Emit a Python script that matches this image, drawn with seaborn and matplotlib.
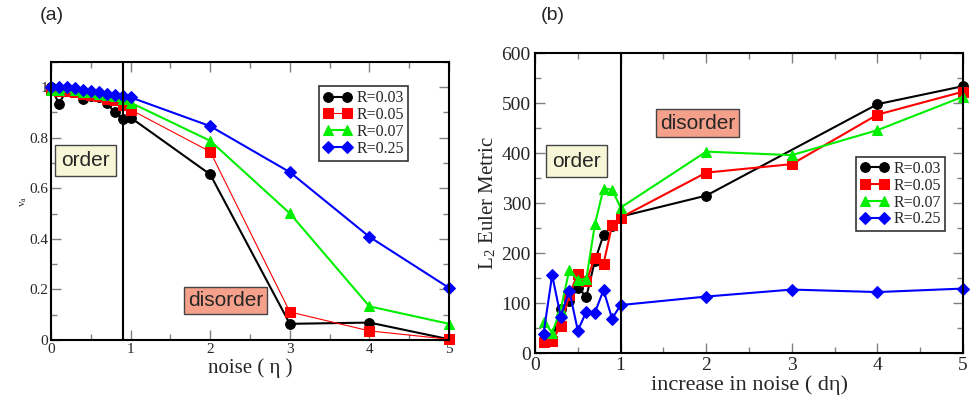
import numpy as np
import pandas as pd
import matplotlib
matplotlib.use("Agg")
import matplotlib.pyplot as plt
from matplotlib.ticker import MultipleLocator
import seaborn as sns

# ---- data: panel (a) order parameter vs noise ----
noise_a = [0.0, 0.1, 0.2, 0.3, 0.4, 0.5, 0.6, 0.7, 0.8, 0.9, 1.0, 2.0, 3.0, 4.0, 5.0]
va_r003 = [1.0, 0.935, 0.99, 0.984, 0.955, 0.964, 0.96, 0.939, 0.90, 0.875, 0.88, 0.655, 0.064, 0.069, 0.003]
va_r005 = [0.99, 0.985, 0.985, 0.98, 0.975, 0.97, 0.965, 0.955, 0.95, 0.928, 0.911, 0.745, 0.111, 0.036, 0.003]
va_r007 = [0.99, 0.99, 1.0, 0.99, 0.98, 0.98, 0.975, 0.97, 0.965, 0.955, 0.939, 0.788, 0.501, 0.133, 0.064]
va_r025 = [1.0, 1.0, 1.0, 0.995, 0.99, 0.985, 0.98, 0.975, 0.97, 0.965, 0.96, 0.846, 0.664, 0.408, 0.206]

# ---- data: panel (b) L2 Euler metric vs increase in noise ----
dnoise = [0.1, 0.2, 0.3, 0.4, 0.5, 0.6, 0.7, 0.8, 0.9, 1.0, 2.0, 3.0, 4.0, 5.0]
dnoise_r003 = [0.1, 0.2, 0.3, 0.4, 0.5, 0.6, 0.7, 0.8, 0.9, 1.0, 2.0, 4.0, 5.0]
l2_r003 = [22, 25, 89, 104, 131, 113, 185, 236, 255, 273, 315, 498, 534]
l2_r005 = [23, 24, 55, 116, 159, 144, 191, 178, 256, 271, 361, 378, 477, 523]
l2_r007 = [63, 41, 87, 166, 146, 149, 258, 329, 327, 291, 403, 396, 446, 513]
l2_r025 = [39, 156, 73, 125, 45, 83, 81, 126, 69, 96, 113, 127, 122, 129]

labels = ["R=0.03", "R=0.05", "R=0.07", "R=0.25"]
colors = ["black", "#ff0000", "#00ee00", "#0000ff"]
markers = ["o", "s", "^", "D"]
msizes = [7, 7, 7.5, 6]

sns.set_style("ticks")
plt.rcParams["font.family"] = ["Liberation Serif", "DejaVu Serif"]
plt.rcParams["mathtext.fontset"] = "stix"

fig = plt.figure(figsize=(9.71, 4.03), dpi=100)
ax1 = fig.add_axes([0.0525, 0.1563, 0.41, 0.69])
ax2 = fig.add_axes([0.551, 0.124, 0.4408, 0.744])

# panel (a)
series_a = [va_r003, va_r005, va_r007, va_r025]
widths_a = [1.5, 0.8, 1.5, 1.5]
for vals, lab, c, m, ms, lw in zip(series_a, labels, colors, markers, msizes, widths_a):
    df = pd.DataFrame({"noise": noise_a, "va": vals})
    sns.lineplot(data=df, x="noise", y="va", ax=ax1, color=c, marker=m, lw=lw,
                 markersize=ms, markeredgecolor=c, label=lab, clip_on=False)
ax1.axvline(0.9, color="black", lw=1.5)
ax1.set_xlim(0, 5)
ax1.set_ylim(0, 1.1)
ax1.set_yticks([0, 0.2, 0.4, 0.6, 0.8, 1.0])
ax1.set_yticklabels(["0", "0.2", "0.4", "0.6", "0.8", "1"])
ax1.xaxis.set_minor_locator(MultipleLocator(0.5))
ax1.yaxis.set_minor_locator(MultipleLocator(0.1))
ax1.set_xlabel("noise ( η )", fontsize=15, labelpad=2)
ax1.set_ylabel(r"v$_\mathregular{a}$", fontsize=8, labelpad=0)

# panel (b)
xs_b = [dnoise_r003, dnoise, dnoise, dnoise]
series_b = [l2_r003, l2_r005, l2_r007, l2_r025]
for xv, vals, lab, c, m, ms in zip(xs_b, series_b, labels, colors, markers, msizes):
    df = pd.DataFrame({"dnoise": xv, "l2": vals})
    sns.lineplot(data=df, x="dnoise", y="l2", ax=ax2, color=c, marker=m, lw=1.5,
                 markersize=ms, markeredgecolor=c, label=lab, clip_on=False)
ax2.axvline(1.0, color="black", lw=1.5)
ax2.set_xlim(0, 5)
ax2.set_ylim(0, 600)
ax2.xaxis.set_major_locator(MultipleLocator(1))
ax2.xaxis.set_minor_locator(MultipleLocator(0.5))
ax2.yaxis.set_major_locator(MultipleLocator(100))
ax2.yaxis.set_minor_locator(MultipleLocator(50))
ax2.set_xlabel("increase in noise ( dη)", fontsize=16, labelpad=1)
ax2.set_ylabel(r"L$_\mathregular{2}$ Euler Metric", fontsize=15, labelpad=2)

for ax in (ax1, ax2):
    for side in ax.spines.values():
        side.set_linewidth(1.5)
        side.set_color("black")
    ax.tick_params(which="both", direction="in", top=True, right=True, color="gray")
    ax.tick_params(which="major", length=7, width=1)
    ax.tick_params(which="minor", length=4, width=1)
ax1.tick_params(labelsize=11, pad=2)
ax2.tick_params(labelsize=14, pad=3)

leg_kw = dict(frameon=True, fancybox=False, edgecolor="black", handlelength=1.8, numpoints=2,
              handletextpad=0.3, labelspacing=0.05, borderpad=0.25, borderaxespad=0.3)
leg1 = ax1.legend(loc="upper right", bbox_to_anchor=(0.91, 0.93), fontsize=11.5, **leg_kw)
leg2 = ax2.legend(loc="upper right", bbox_to_anchor=(0.97, 0.67), fontsize=11.5, **leg_kw)
for leg in (leg1, leg2):
    leg.get_frame().set_linewidth(1.2)

box_sans = ["Liberation Sans", "DejaVu Sans"]
ax1.text(0.43, 0.71, "order", fontsize=15, family=box_sans, ha="center", va="center",
         bbox=dict(boxstyle="square,pad=0.3", fc="#f7f7d7", ec="#444444", lw=1))
ax1.text(2.19, 0.155, "disorder", fontsize=15, family=box_sans, ha="center", va="center",
         bbox=dict(boxstyle="square,pad=0.2", fc="#f5a08a", ec="#444444", lw=1))
ax2.text(0.48, 384, "order", fontsize=15, family=box_sans, ha="center", va="center",
         bbox=dict(boxstyle="square,pad=0.3", fc="#f7f7d7", ec="#444444", lw=1))
ax2.text(1.9, 460, "disorder", fontsize=15, family=box_sans, ha="center", va="center",
         bbox=dict(boxstyle="square,pad=0.2", fc="#f5a08a", ec="#444444", lw=1))

fig.text(52 / 971, 1 - 15 / 403, "(a)", fontsize=14, family=box_sans, ha="center", va="center")
fig.text(553 / 971, 1 - 15 / 403, "(b)", fontsize=14, family=box_sans, ha="center", va="center")

fig.savefig("out.png", dpi=100)
